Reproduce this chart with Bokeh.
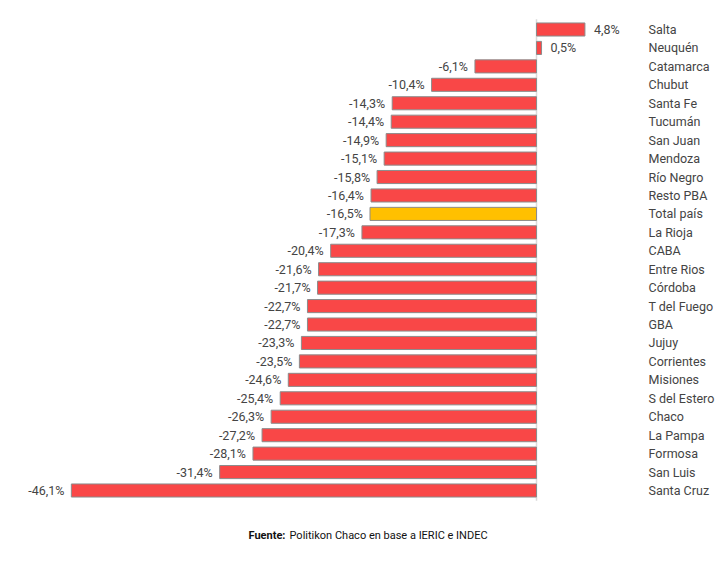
from bokeh.plotting import figure
from bokeh.models import ColumnDataSource, Range1d
from bokeh.embed import file_html
from bokeh.resources import INLINE
from bokeh.core.properties import value

provincias = ["Salta", "Neuquén", "Catamarca", "Chubut", "Santa Fe", "Tucumán", "San Juan",
              "Mendoza", "Río Negro", "Resto PBA", "Total país", "La Rioja", "CABA", "Entre Rios",
              "Córdoba", "T del Fuego", "GBA", "Jujuy", "Corrientes", "Misiones", "S del Estero",
              "Chaco", "La Pampa", "Formosa", "San Luis", "Santa Cruz"]
variacion = [4.8, 0.5, -6.1, -10.4, -14.3, -14.4, -14.9, -15.1, -15.8, -16.4, -16.5, -17.3, -20.4,
             -21.6, -21.7, -22.7, -22.7, -23.3, -23.5, -24.6, -25.4, -26.3, -27.2, -28.1, -31.4, -46.1]
destacado = "Total país"

n = len(provincias)
ys = [n - 1 - i for i in range(n)]
colors = ["#FFC000" if p == destacado else "#F94747" for p in provincias]
labels = [("%.1f%%" % v).replace(".", ",") for v in variacion]

W, H = 727, 565
pxu = 10.09
x0 = -536 / pxu
row_px = 461 / (n - 1)
y0 = -(H - 490) / row_px
x_lab = 112 / pxu

src = ColumnDataSource(dict(y=ys, v=variacion, color=colors, name=provincias))

p = figure(width=W, height=H, output_backend="svg", toolbar_location=None,
           x_range=Range1d(x0, x0 + W / pxu), y_range=Range1d(y0, y0 + H / row_px),
           min_border=0, outline_line_color=None)
p.axis.visible = False
p.grid.visible = False
p.background_fill_color = "white"

p.segment(x0=[0], x1=[0], y0=[-0.55], y1=[n - 1 + 0.55], line_color="#DADADA", line_width=1.5)

p.hbar(y="y", right="v", left=0, height=0.71, fill_color="color", line_color="#8C8C8C",
       line_width=1, source=src)

neg = ColumnDataSource(dict(y=[y for y, v in zip(ys, variacion) if v < 0],
                            v=[v for v in variacion if v < 0],
                            label=[l for l, v in zip(labels, variacion) if v < 0]))
pos = ColumnDataSource(dict(y=[y for y, v in zip(ys, variacion) if v >= 0],
                            v=[v for v in variacion if v >= 0],
                            label=[l for l, v in zip(labels, variacion) if v >= 0]))

font = value("Roboto")
p.text(x="v", y="y", text="label", source=neg, text_align="right", text_baseline="middle",
       x_offset=-7, text_font=font, text_font_size="12.5px", text_color="#444444")
p.text(x="v", y="y", text="label", source=pos, text_align="left", text_baseline="middle",
       x_offset=9, text_font=font, text_font_size="12.5px", text_color="#444444")
p.text(x=x_lab, y="y", text="name", source=src, text_align="left", text_baseline="middle",
       text_font=font, text_font_size="12.5px", text_color="#444444")

fy = y0 + (H - 535) / row_px
p.text(x=[x0 + 248 / pxu], y=[fy], text=["Fuente:"], text_align="left", text_baseline="middle",
       text_font=font, text_font_size="11px", text_font_style="bold", text_color="#111111")
p.text(x=[x0 + 289 / pxu], y=[fy], text=["Politikon Chaco en base a IERIC e INDEC"],
       text_align="left", text_baseline="middle",
       text_font=font, text_font_size="11px", text_color="#111111")

open("out.html", "w").write(file_html(p, INLINE))
